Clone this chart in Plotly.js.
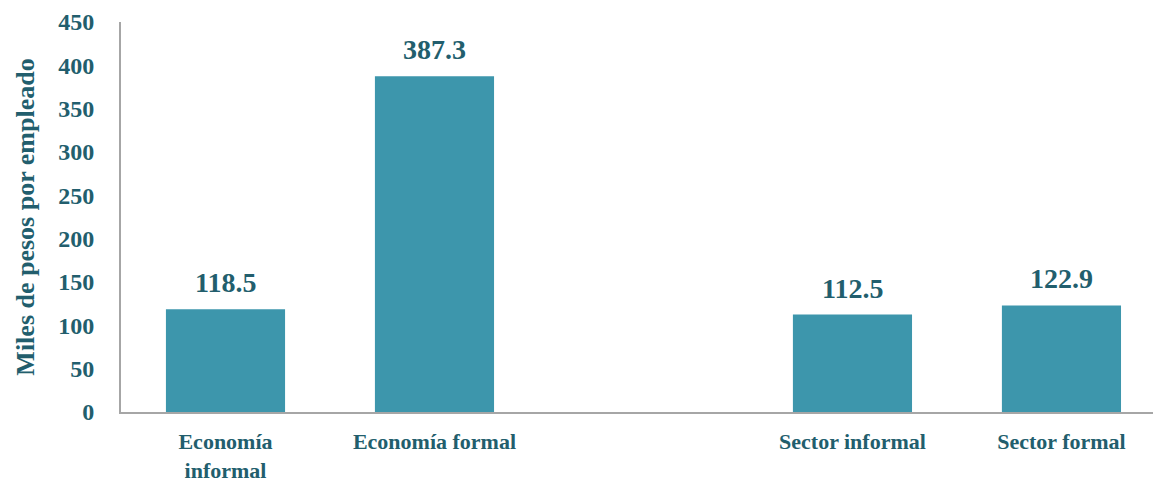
<!DOCTYPE html>
<html>
<head>
<meta charset="utf-8">
<script src="https://cdn.plot.ly/plotly-3.0.1.min.js"></script>
<style>html,body{margin:0;padding:0;background:#fff;}#chart{width:1153px;height:484px;}</style>
</head>
<body>
<div id="chart"></div>
<script>
var categories = ["Economía<br>informal", "Economía formal", " ", "Sector informal", "Sector formal"];
var values = [118.5, 387.3, null, 112.5, 122.9];
var yTicks = [0, 50, 100, 150, 200, 250, 300, 350, 400, 450];

var FONT = '"Palatino Linotype", "Book Antiqua", Palatino, "Liberation Serif", serif';
var TXT = '#225E6D';
var BAR = '#3D96AC';

var trace = {
  type: 'bar',
  x: categories,
  y: values,
  marker: {color: BAR},
  hoverinfo: 'skip'
};

var annotations = [];
for (var i = 0; i < categories.length; i++) {
  if (values[i] === null) continue;
  annotations.push({
    x: categories[i], y: values[i], xref: 'x', yref: 'y',
    text: '<b>' + values[i].toFixed(1) + '</b>',
    showarrow: false, yanchor: 'bottom', yshift: 9,
    font: {family: FONT, size: 28, color: TXT}
  });
}

var layout = {
  width: 1153, height: 484,
  margin: {l: 121, r: 0, t: 22, b: 72},
  paper_bgcolor: '#fff', plot_bgcolor: '#fff',
  showlegend: false,
  bargap: 0.43,
  font: {family: FONT, color: TXT},
  xaxis: {
    type: 'category',
    range: [-0.5, 4.438],
    showgrid: false, zeroline: false,
    showline: true, linecolor: '#A6A6A6', linewidth: 2,
    ticks: '', ticklabelstandoff: 9,
    tickfont: {family: FONT, size: 22, color: TXT, weight: 'bold'}
  },
  yaxis: {
    range: [0, 450],
    tickvals: yTicks,
    ticktext: yTicks.map(String),
    showgrid: false, zeroline: false,
    showline: true, linecolor: '#A6A6A6', linewidth: 2,
    ticks: '', ticklabelstandoff: 20,
    tickfont: {family: FONT, size: 24, color: TXT, weight: 'bold'},
    title: {text: '<b>Miles de pesos por empleado</b>', standoff: 16,
            font: {family: FONT, size: 26, color: TXT}}
  },
  annotations: annotations
};

Plotly.newPlot('chart', [trace], layout, {staticPlot: true, displayModeBar: false});
</script>
</body>
</html>
